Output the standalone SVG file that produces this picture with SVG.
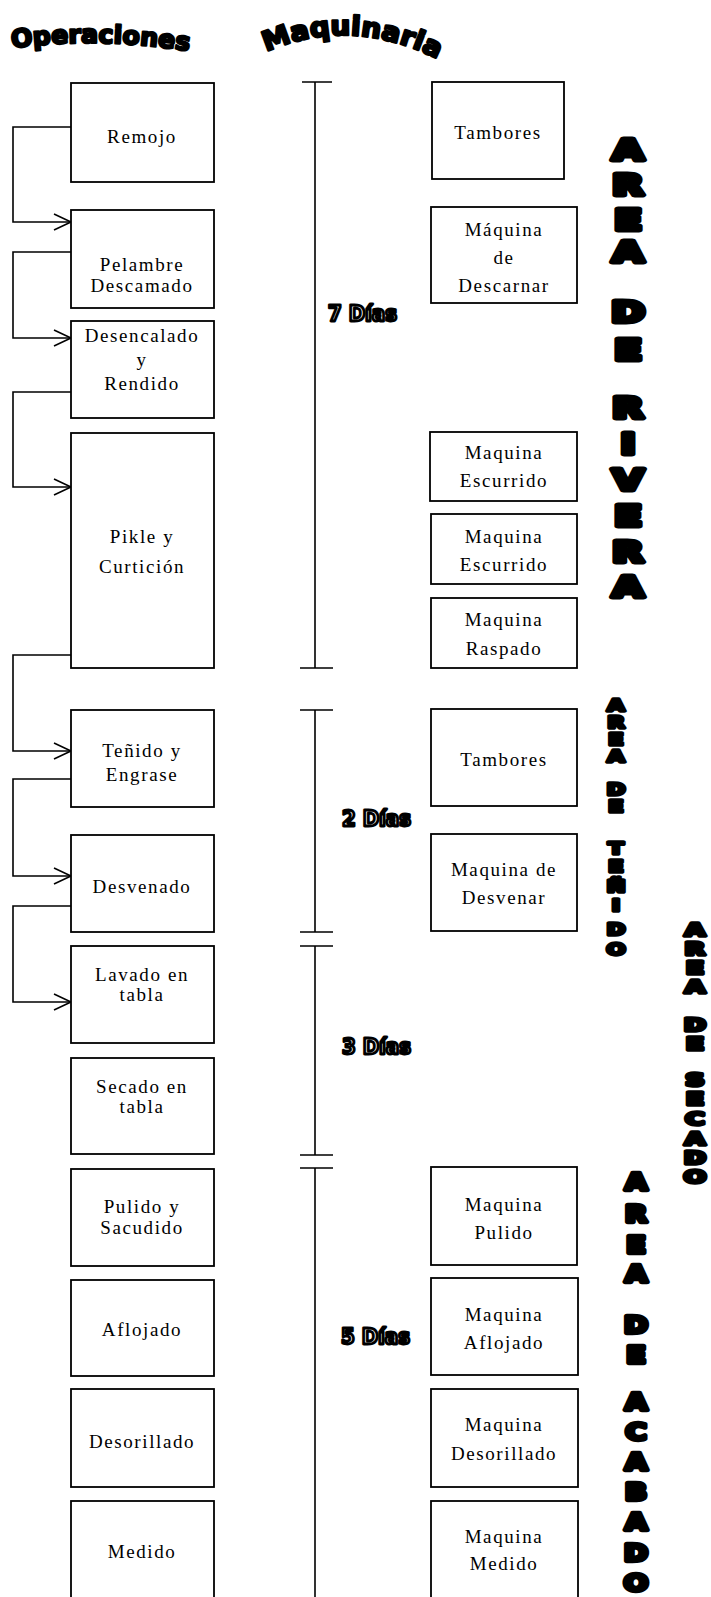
<svg xmlns="http://www.w3.org/2000/svg" width="711" height="1597" viewBox="0 0 711 1597">
<style>
.box{fill:#fff;stroke:#000;stroke-width:1.8}
.t{font-family:"Liberation Serif",serif;font-size:19px;letter-spacing:1.6px;text-anchor:middle;fill:#000}
.con{fill:none;stroke:#000;stroke-width:1.6}
.tl{fill:none;stroke:#000;stroke-width:1.6}
.dias{font-family:"DejaVu Sans Condensed","DejaVu Sans",sans-serif;font-weight:bold;font-size:22px;fill:#fff;stroke:#000;stroke-width:2.8;stroke-linejoin:round}
.hdr{font-family:"DejaVu Sans",sans-serif;font-weight:bold;fill:#000;stroke:#000;stroke-width:2.4;stroke-linejoin:round}
.big{font-family:"DejaVu Sans",sans-serif;font-weight:bold;text-anchor:middle;fill:#000;stroke:#000;stroke-linejoin:round}
</style>
<defs>
<marker id="arr" markerUnits="userSpaceOnUse" markerWidth="20" markerHeight="20" viewBox="-18 -10 20 20" refX="0" refY="0" orient="auto">
<path d="M-17,-8 L0,0 L-17,8" fill="none" stroke="#000" stroke-width="1.6"/>
</marker>
<path id="arcOp" d="M 12 48 Q 100 36 195 52"/>
<path id="arcMa" d="M 266 52 Q 352 14 444 62"/>
</defs>

<g id="headers">
<text class="hdr" font-size="25"><textPath href="#arcOp" textLength="178" lengthAdjust="spacingAndGlyphs">Operaciones</textPath></text>
<text class="hdr" font-size="27"><textPath href="#arcMa" textLength="178" lengthAdjust="spacingAndGlyphs">Maquinaria</textPath></text>
</g>

<g id="connectors">
<path class="con" d="M71 127 H13 V222 H71" marker-end="url(#arr)"/>
<path class="con" d="M71 252 H13 V338 H71" marker-end="url(#arr)"/>
<path class="con" d="M71 392 H13 V487 H71" marker-end="url(#arr)"/>
<path class="con" d="M71 655 H13 V751 H71" marker-end="url(#arr)"/>
<path class="con" d="M71 779 H13 V876 H71" marker-end="url(#arr)"/>
<path class="con" d="M71 906 H13 V1002 H71" marker-end="url(#arr)"/>
</g>

<g id="op-remojo"><rect class="box" x="71" y="83" width="143" height="99"/><text class="t" x="142" y="143">Remojo</text></g>
<g id="op-pelambre"><rect class="box" x="71" y="210" width="143" height="98"/><text class="t" x="142" y="271">Pelambre</text><text class="t" x="142" y="292">Descamado</text></g>
<g id="op-desencalado"><rect class="box" x="71" y="321" width="143" height="97"/><text class="t" x="142" y="342">Desencalado</text><text class="t" x="142" y="366">y</text><text class="t" x="142" y="390">Rendido</text></g>
<g id="op-pikle"><rect class="box" x="71" y="433" width="143" height="235"/><text class="t" x="142" y="543">Pikle y</text><text class="t" x="142" y="573">Curtición</text></g>
<g id="op-tenido"><rect class="box" x="71" y="710" width="143" height="97"/><text class="t" x="142" y="757">Teñido y</text><text class="t" x="142" y="781">Engrase</text></g>
<g id="op-desvenado"><rect class="box" x="71" y="835" width="143" height="97"/><text class="t" x="142" y="893">Desvenado</text></g>
<g id="op-lavado"><rect class="box" x="71" y="946" width="143" height="97"/><text class="t" x="142" y="981">Lavado en</text><text class="t" x="142" y="1001">tabla</text></g>
<g id="op-secado"><rect class="box" x="71" y="1058" width="143" height="96"/><text class="t" x="142" y="1093">Secado en</text><text class="t" x="142" y="1113">tabla</text></g>
<g id="op-pulido"><rect class="box" x="71" y="1169" width="143" height="97"/><text class="t" x="142" y="1213">Pulido y</text><text class="t" x="142" y="1234">Sacudido</text></g>
<g id="op-aflojado"><rect class="box" x="71" y="1280" width="143" height="96"/><text class="t" x="142" y="1336">Aflojado</text></g>
<g id="op-desorillado"><rect class="box" x="71" y="1389" width="143" height="98"/><text class="t" x="142" y="1448">Desorillado</text></g>
<g id="op-medido"><rect class="box" x="71" y="1501" width="143" height="110"/><text class="t" x="142" y="1558">Medido</text></g>

<g id="timeline">
<path class="tl" d="M302 82 H332 M315 82 V668 M300 668 H333"/>
<path class="tl" d="M300 710 H333 M315 710 V932 M300 932 H333"/>
<path class="tl" d="M300 946 H333 M315 946 V1155 M300 1155 H333"/>
<path class="tl" d="M300 1168 H333 M315 1168 V1600"/>
<text class="dias" x="328" y="321">7 Días</text>
<text class="dias" x="342" y="826">2 Días</text>
<text class="dias" x="342" y="1054">3 Días</text>
<text class="dias" x="341" y="1344">5 Días</text>
</g>

<g id="m-tambores1"><rect class="box" x="432" y="82" width="132" height="97"/><text class="t" x="498" y="139">Tambores</text></g>
<g id="m-descarnar"><rect class="box" x="431" y="207" width="146" height="96"/><text class="t" x="504" y="236">Máquina</text><text class="t" x="504" y="264">de</text><text class="t" x="504" y="292">Descarnar</text></g>
<g id="m-escurrido1"><rect class="box" x="430" y="432" width="147" height="69"/><text class="t" x="504" y="459">Maquina</text><text class="t" x="504" y="487">Escurrido</text></g>
<g id="m-escurrido2"><rect class="box" x="431" y="514" width="146" height="70"/><text class="t" x="504" y="543">Maquina</text><text class="t" x="504" y="571">Escurrido</text></g>
<g id="m-raspado"><rect class="box" x="431" y="598" width="146" height="70"/><text class="t" x="504" y="626">Maquina</text><text class="t" x="504" y="655">Raspado</text></g>
<g id="m-tambores2"><rect class="box" x="431" y="709" width="146" height="97"/><text class="t" x="504" y="766">Tambores</text></g>
<g id="m-desvenar"><rect class="box" x="431" y="834" width="146" height="97"/><text class="t" x="504" y="876">Maquina de</text><text class="t" x="504" y="904">Desvenar</text></g>
<g id="m-pulido"><rect class="box" x="431" y="1167" width="146" height="98"/><text class="t" x="504" y="1211">Maquina</text><text class="t" x="504" y="1239">Pulido</text></g>
<g id="m-aflojado"><rect class="box" x="431" y="1278" width="147" height="97"/><text class="t" x="504" y="1321">Maquina</text><text class="t" x="504" y="1349">Aflojado</text></g>
<g id="m-desorillado"><rect class="box" x="431" y="1389" width="147" height="98"/><text class="t" x="504" y="1431">Maquina</text><text class="t" x="504" y="1460">Desorillado</text></g>
<g id="m-medido"><rect class="box" x="431" y="1501" width="147" height="110"/><text class="t" x="504" y="1543">Maquina</text><text class="t" x="504" y="1570">Medido</text></g>

<g id="area-rivera" transform="translate(628 0) scale(1.45 1)">
<text class="big" font-size="28" stroke-width="5"><tspan x="0" y="160">A</tspan><tspan x="0" y="195">R</tspan><tspan x="0" y="230">E</tspan><tspan x="0" y="262">A</tspan><tspan x="0" y="322">D</tspan><tspan x="0" y="360">E</tspan><tspan x="0" y="418">R</tspan><tspan x="0" y="454">I</tspan><tspan x="0" y="490">V</tspan><tspan x="0" y="526">E</tspan><tspan x="0" y="562">R</tspan><tspan x="0" y="597">A</tspan></text>
</g>
<g id="area-tenido" transform="translate(616 0) scale(1.4 1)">
<text class="big" font-size="16" stroke-width="3.4"><tspan x="0" y="711">A</tspan><tspan x="0" y="728">R</tspan><tspan x="0" y="745">E</tspan><tspan x="0" y="762">A</tspan><tspan x="0" y="795">D</tspan><tspan x="0" y="812">E</tspan><tspan x="0" y="854">T</tspan><tspan x="0" y="872">E</tspan><tspan x="0" y="892">Ñ</tspan><tspan x="0" y="911">I</tspan><tspan x="0" y="935">D</tspan><tspan x="0" y="955">O</tspan></text>
</g>
<g id="area-secado" transform="translate(695 0) scale(1.55 1)">
<text class="big" font-size="17" stroke-width="3.6"><tspan x="0" y="936">A</tspan><tspan x="0" y="955">R</tspan><tspan x="0" y="974">E</tspan><tspan x="0" y="993">A</tspan><tspan x="0" y="1031">D</tspan><tspan x="0" y="1050">E</tspan><tspan x="0" y="1086">S</tspan><tspan x="0" y="1105">E</tspan><tspan x="0" y="1125">C</tspan><tspan x="0" y="1145">A</tspan><tspan x="0" y="1164">D</tspan><tspan x="0" y="1183">O</tspan></text>
</g>
<g id="area-acabado" transform="translate(636 0) scale(1.25 1)">
<text class="big" font-size="23" stroke-width="4.4"><tspan x="0" y="1190">A</tspan><tspan x="0" y="1222">R</tspan><tspan x="0" y="1253">E</tspan><tspan x="0" y="1282">A</tspan><tspan x="0" y="1333">D</tspan><tspan x="0" y="1363">E</tspan><tspan x="0" y="1410">A</tspan><tspan x="0" y="1440">C</tspan><tspan x="0" y="1470">A</tspan><tspan x="0" y="1500">B</tspan><tspan x="0" y="1530">A</tspan><tspan x="0" y="1561">D</tspan><tspan x="0" y="1591">O</tspan></text>
</g>
</svg>
